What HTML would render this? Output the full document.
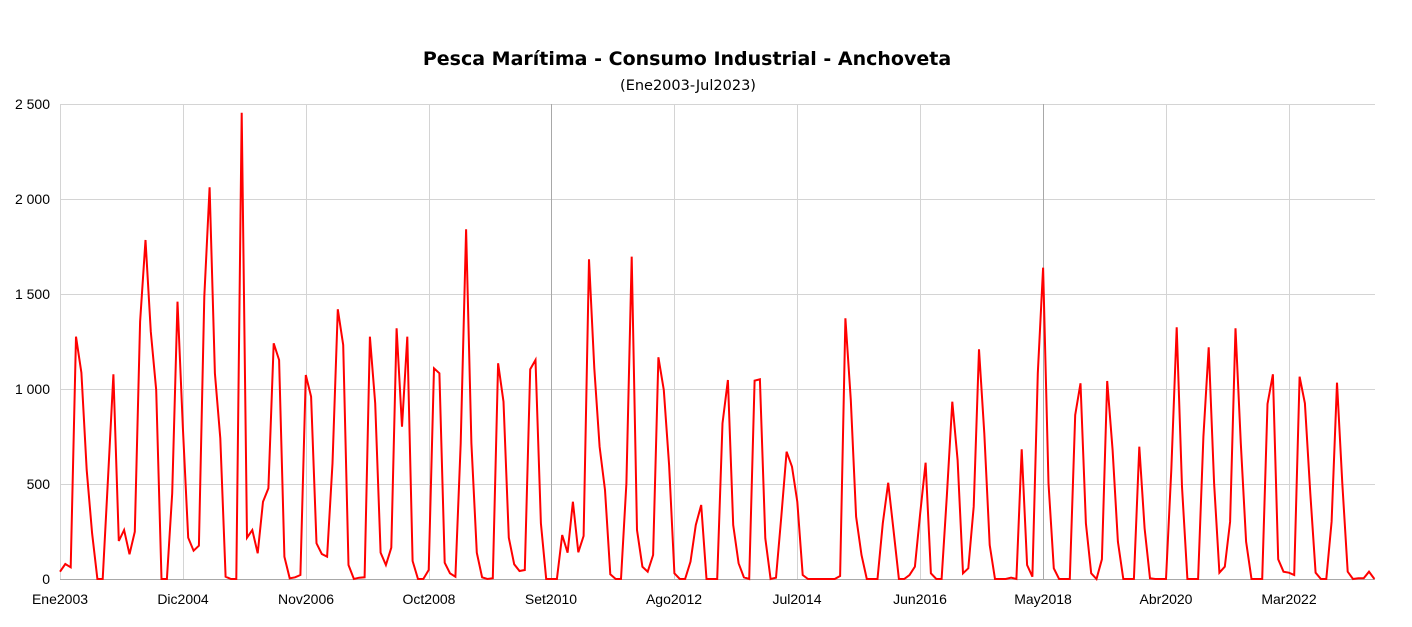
<!DOCTYPE html>
<html><head><meta charset="utf-8"><style>
body{margin:0;background:#fff;width:1412px;height:622px;overflow:hidden;font-family:"Liberation Sans",sans-serif}
</style></head><body>
<svg id="s" width="1412" height="622" xmlns="http://www.w3.org/2000/svg" font-family="Liberation Sans, sans-serif">
<text x="687" y="65" text-anchor="middle" font-size="19" font-weight="bold" font-family="DejaVu Sans, sans-serif" fill="#000">Pesca Marítima - Consumo Industrial - Anchoveta</text>
<text x="688" y="90" text-anchor="middle" font-size="14.5" font-family="DejaVu Sans, sans-serif" fill="#000">(Ene2003-Jul2023)</text>
<g stroke="#d4d4d4" stroke-width="1">
<line x1="60" y1="104.5" x2="1375" y2="104.5"/><line x1="60" y1="199.5" x2="1375" y2="199.5"/>
<line x1="60" y1="294.5" x2="1375" y2="294.5"/><line x1="60" y1="389.5" x2="1375" y2="389.5"/>
<line x1="60" y1="484.5" x2="1375" y2="484.5"/>
<line x1="60.5" y1="104" x2="60.5" y2="579"/>
<line x1="183.5" y1="104" x2="183.5" y2="579"/><line x1="306.5" y1="104" x2="306.5" y2="579"/>
<line x1="429.5" y1="104" x2="429.5" y2="579"/><line x1="674.5" y1="104" x2="674.5" y2="579"/>
<line x1="797.5" y1="104" x2="797.5" y2="579"/><line x1="920.5" y1="104" x2="920.5" y2="579"/>
<line x1="1166.5" y1="104" x2="1166.5" y2="579"/><line x1="1289.5" y1="104" x2="1289.5" y2="579"/>
</g>
<g stroke="#a8a8a8" stroke-width="1">
<line x1="551.5" y1="104" x2="551.5" y2="579"/><line x1="1043.5" y1="104" x2="1043.5" y2="579"/>
<line x1="60" y1="579.5" x2="1375" y2="579.5"/>
</g>
<g font-size="14" fill="#000" text-anchor="end">
<text x="50" y="109">2 500</text><text x="50" y="204">2 000</text><text x="50" y="299">1 500</text>
<text x="50" y="394">1 000</text><text x="50" y="489">500</text><text x="50" y="584">0</text>
</g>
<g font-size="14" fill="#000" text-anchor="middle">
<text x="60" y="604">Ene2003</text><text x="183" y="604">Dic2004</text><text x="306" y="604">Nov2006</text>
<text x="429" y="604">Oct2008</text><text x="551" y="604">Set2010</text><text x="674" y="604">Ago2012</text>
<text x="797" y="604">Jul2014</text><text x="920" y="604">Jun2016</text><text x="1043" y="604">May2018</text>
<text x="1166" y="604">Abr2020</text><text x="1289" y="604">Mar2022</text>
</g>
<polyline id="p" fill="none" stroke="#f00" stroke-width="2" stroke-linejoin="miter"/>
</svg>
<script>
var z=[1415,1392,1402,710,818,1110,1300,1437,1437,1130,823,1323,1290,1363,1295,665,420,695,870,1437,1437,1180,605,985,1313,1352,1337,590,262,820,1015,1430,1437,1437,38,1313,1290,1360,1205,1165,730,780,1370,1435,1432,1425,825,890,1330,1362,1370,1090,628,735,1395,1437,1433,1432,710,910,
1358,1395,1343,685,980,710,1383,1437,1437,1410,805,820,1388,1420,1430,1030,388,1030,1358,1432,1437,1435,790,905,1313,1393,1413,1410,808,780,1270,1437,1437,1437,1305,1358,1205,1357,1308,478,805,1040,1170,1423,1437,1437,1150,470,1290,1400,1415,1365,772,870,1095,1420,1437,1437,1385,1275,1215,1437,1437,1437,
970,840,1275,1390,1432,1437,842,838,1315,1437,1433,1250,1055,1100,1205,1425,1437,1437,1437,1437,1437,1437,1428,655,900,1250,1365,1437,1437,1437,1270,1148,1290,1437,1437,1425,1400,1240,1088,1420,1437,1437,1185,905,1080,1420,1405,1220,748,1000,1335,1437,1437,1437,1433,1437,1048,1395,1430,820,503,
1150,1405,1437,1437,1437,945,850,1270,1420,1437,1378,843,1050,1325,1437,1437,1437,1040,1285,1435,1437,1437,1437,1110,682,1160,1437,1437,1437,1010,742,1150,1418,1400,1265,685,1030,1325,1437,1437,1437,912,823,1378,1415,1418,1425,830,910,1180,1418,1437,1437,1265,848,1150,1415,1437,1435,1435,1415,1437];
var pts=[];for(var i=0;i<z.length;i++){pts.push((60+i*5.343).toFixed(1)+","+(100+z[i]/3).toFixed(1));}
document.getElementById("p").setAttribute("points",pts.join(" "));
</script>
</body></html>
